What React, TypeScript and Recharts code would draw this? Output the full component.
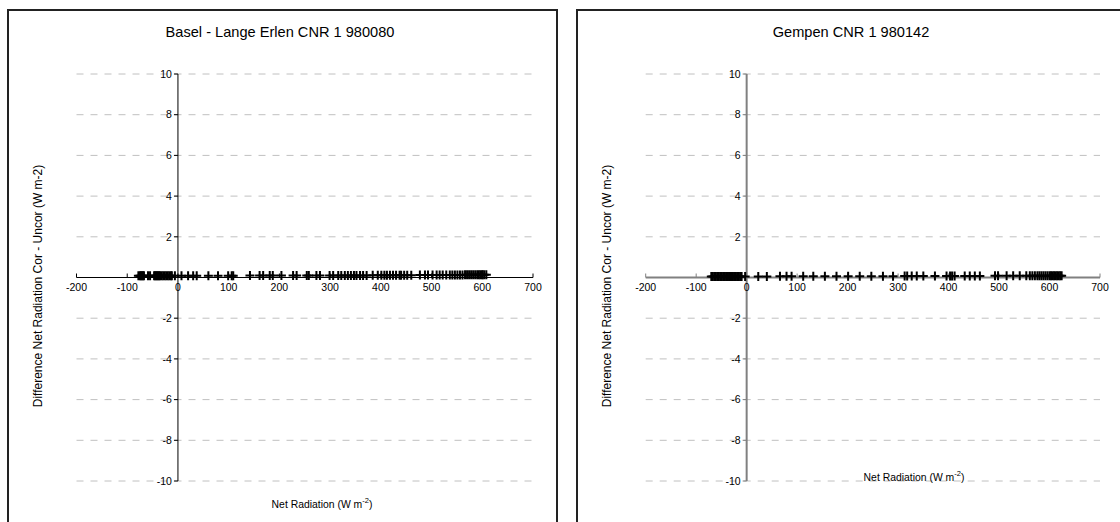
import React from 'react';
import { ScatterChart, Scatter, XAxis, YAxis, ReferenceLine } from 'recharts';

const FONT = '"Liberation Sans", Arial, sans-serif';

// Net radiation (W m-2) vs difference cor - uncor (W m-2)
const baselPoints: [number, number][] = [
  [-78, 0.08], [-75, 0.08], [-73, 0.08], [-71, 0.08], [-69, 0.08], [-67, 0.08], [-59, 0.08], [-55, 0.08],
  [-47, 0.08], [-45, 0.08], [-43, 0.08], [-41, 0.08], [-39, 0.08], [-37, 0.08], [-35, 0.08], [-32, 0.08],
  [-29, 0.08], [-26, 0.08], [-23, 0.08], [-20, 0.08], [-17, 0.08], [-14, 0.08], [-12, 0.08], [-6, 0.08],
  [7, 0.09], [20, 0.09], [30, 0.09], [37, 0.09], [60, 0.09], [79, 0.09], [99, 0.09], [106, 0.09],
  [109, 0.09], [142, 0.1], [161, 0.1], [168, 0.1], [181, 0.1], [187, 0.1], [204, 0.1], [227, 0.1],
  [234, 0.1], [254, 0.1], [258, 0.1], [273, 0.1], [280, 0.1], [299, 0.1], [306, 0.1], [316, 0.1],
  [322, 0.1], [329, 0.1], [335, 0.1], [341, 0.1], [347, 0.1], [352, 0.1], [359, 0.1], [365, 0.1],
  [372, 0.1], [384, 0.11], [394, 0.11], [401, 0.11], [407, 0.11], [412, 0.11], [418, 0.11], [424, 0.11],
  [430, 0.11], [437, 0.11], [440, 0.11], [446, 0.11], [452, 0.11], [460, 0.11], [477, 0.12], [487, 0.12],
  [493, 0.12], [502, 0.12], [510, 0.12], [516, 0.12], [522, 0.12], [529, 0.12], [536, 0.12], [541, 0.12],
  [546, 0.12], [551, 0.12], [556, 0.12], [561, 0.12], [566, 0.13], [570, 0.13], [574, 0.13], [578, 0.13],
  [582, 0.13], [586, 0.13], [590, 0.13], [593, 0.13], [596, 0.13], [599, 0.13], [601, 0.13], [604, 0.13],
  [608, 0.13],
];

const gempenPoints: [number, number][] = [
  [-70, 0.05], [-67, 0.05], [-64, 0.05], [-61, 0.05], [-58, 0.05], [-55, 0.05], [-52, 0.05], [-49, 0.05],
  [-46, 0.05], [-43, 0.05], [-40, 0.05], [-37, 0.05], [-34, 0.05], [-31, 0.05], [-28, 0.05], [-25, 0.05],
  [-22, 0.05], [-19, 0.05], [-16, 0.05], [-13, 0.05], [-10, 0.05], [-3, 0.05], [23, 0.05], [40, 0.05],
  [66, 0.06], [79, 0.06], [89, 0.06], [112, 0.06], [132, 0.06], [155, 0.06], [178, 0.06], [201, 0.06],
  [224, 0.06], [247, 0.06], [270, 0.06], [290, 0.06], [313, 0.07], [318, 0.07], [327, 0.07], [337, 0.07],
  [350, 0.07], [373, 0.07], [396, 0.07], [403, 0.07], [407, 0.07], [412, 0.07], [432, 0.07], [442, 0.07],
  [452, 0.07], [462, 0.07], [492, 0.08], [498, 0.08], [515, 0.08], [528, 0.08], [541, 0.08], [554, 0.08],
  [561, 0.08], [566, 0.08], [571, 0.08], [576, 0.08], [580, 0.08], [584, 0.08], [588, 0.08], [592, 0.08],
  [596, 0.08], [600, 0.08], [603, 0.08], [606, 0.08], [609, 0.08], [612, 0.08], [615, 0.08], [618, 0.08],
  [621, 0.08], [624, 0.08],
];

const xTicks = [-200, -100, 0, 100, 200, 300, 400, 500, 600, 700];
const yTicks = [10, 8, 6, 4, 2, -2, -4, -6, -8, -10];
const xDomain: [number, number] = [-200, 700];
const yDomain: [number, number] = [-10, 10];

const baselData = baselPoints.map(([x, y]) => ({ x, y }));
const gempenData = gempenPoints.map(([x, y]) => ({ x, y }));
const xTickData = xTicks.map((t) => ({ x: t, y: 0, label: String(t) }));
const yTickData = yTicks.map((t) => ({ x: 0, y: t, label: String(t) }));

const makePlus = (color: string) => (p: any) => {
  const { cx, cy } = p;
  if (cx == null || cy == null) return <g />;
  return (
    <path
      d={`M${cx - 4.5},${cy}h9M${cx},${cy - 4.5}v9`}
      stroke={color}
      strokeWidth={2}
      fill="none"
    />
  );
};

const makeXTick = (axisColor: string) => (p: any) => {
  const { cx, cy, payload } = p;
  return (
    <g>
      <line x1={cx} y1={cy} x2={cx} y2={cy - 4} stroke={axisColor} strokeWidth={1} />
      <text x={cx} y={cy + 13} textAnchor="middle" fontSize={10.5} fontFamily={FONT} fill="#000">
        {payload.label}
      </text>
    </g>
  );
};

const makeYTick = (axisColor: string) => (p: any) => {
  const { cx, cy, payload } = p;
  return (
    <g>
      <line x1={cx - 4} y1={cy} x2={cx} y2={cy} stroke={axisColor} strokeWidth={1} />
      <text x={cx - 6} y={cy + 3.7} textAnchor="end" fontSize={10.5} fontFamily={FONT} fill="#000">
        {payload.label}
      </text>
    </g>
  );
};

type PanelProps = {
  data: { x: number; y: number }[];
  chartLeft: number;
  chartWidth: number;
  margin: { top: number; right: number; bottom: number; left: number };
  axisColor: string;
  axisWidth: number;
};

function PanelChart({ data, chartLeft, chartWidth, margin, axisColor, axisWidth }: PanelProps) {
  return (
    <div style={{ position: 'absolute', left: chartLeft, top: 11 }}>
      <ScatterChart width={chartWidth} height={511} margin={margin} style={{ overflow: 'visible' }}>
        <XAxis type="number" dataKey="x" domain={xDomain} hide />
        <YAxis type="number" dataKey="y" domain={yDomain} hide />
        {yTicks.map((t) => (
          <ReferenceLine key={t} y={t} stroke="#c0c0c0" strokeWidth={1} strokeDasharray="7 7" />
        ))}
        <ReferenceLine y={0} stroke={axisColor} strokeWidth={axisWidth} />
        <ReferenceLine x={0} stroke={axisColor} strokeWidth={axisWidth} />
        <Scatter data={xTickData} shape={makeXTick(axisColor)} isAnimationActive={false} />
        <Scatter data={yTickData} shape={makeYTick(axisColor)} isAnimationActive={false} />
        <Scatter data={data} shape={makePlus('#000')} isAnimationActive={false} />
      </ScatterChart>
    </div>
  );
}

const textBase: React.CSSProperties = {
  position: 'absolute',
  fontFamily: FONT,
  color: '#000',
  whiteSpace: 'nowrap',
};

function Centered({ x, y, size, children }: { x: number; y: number; size: number; children: React.ReactNode }) {
  return (
    <div style={{ ...textBase, left: x, top: y, fontSize: size, transform: 'translate(-50%, -50%)' }}>
      {children}
    </div>
  );
}

function Rotated({ x, y, size, children }: { x: number; y: number; size: number; children: React.ReactNode }) {
  return (
    <div
      style={{
        ...textBase,
        left: x,
        top: y,
        fontSize: size,
        transform: 'translate(-50%, -50%) rotate(-90deg)',
      }}
    >
      {children}
    </div>
  );
}

const netRadLabel = (
  <span>
    Net Radiation (W m<sup style={{ fontSize: 7.5, verticalAlign: 'super', lineHeight: 0 }}>-2</sup>)
  </span>
);
const diffLabel = 'Difference Net Radiation Cor - Uncor (W m-2)';

export default function App() {
  return (
    <div
      style={{
        position: 'absolute',
        left: 0,
        top: 0,
        width: 1120,
        height: 522,
        overflow: 'hidden',
        background: '#fff',
      }}
    >
      <div style={{ position: 'absolute', left: 7, top: 9, width: 547, height: 530, border: '2px solid #222' }} />
      <div style={{ position: 'absolute', left: 576, top: 9, width: 600, height: 530, border: '2px solid #222' }} />

      <PanelChart
        data={baselData}
        chartLeft={9}
        chartWidth={547}
        margin={{ top: 63, right: 23, bottom: 41, left: 67.5 }}
        axisColor="#000"
        axisWidth={1}
      />
      <PanelChart
        data={gempenData}
        chartLeft={578}
        chartWidth={542}
        margin={{ top: 63, right: 20, bottom: 41, left: 67.7 }}
        axisColor="#808080"
        axisWidth={2}
      />

      <Centered x={280} y={32} size={14.6}>Basel - Lange Erlen CNR 1 980080</Centered>
      <Centered x={851} y={32} size={14.6}>Gempen CNR 1 980142</Centered>

      <Centered x={322} y={504} size={10.4}>{netRadLabel}</Centered>
      <Centered x={914} y={477} size={10.4}>{netRadLabel}</Centered>

      <Rotated x={38} y={286} size={12}>{diffLabel}</Rotated>
      <Rotated x={607} y={286} size={12}>{diffLabel}</Rotated>
    </div>
  );
}
